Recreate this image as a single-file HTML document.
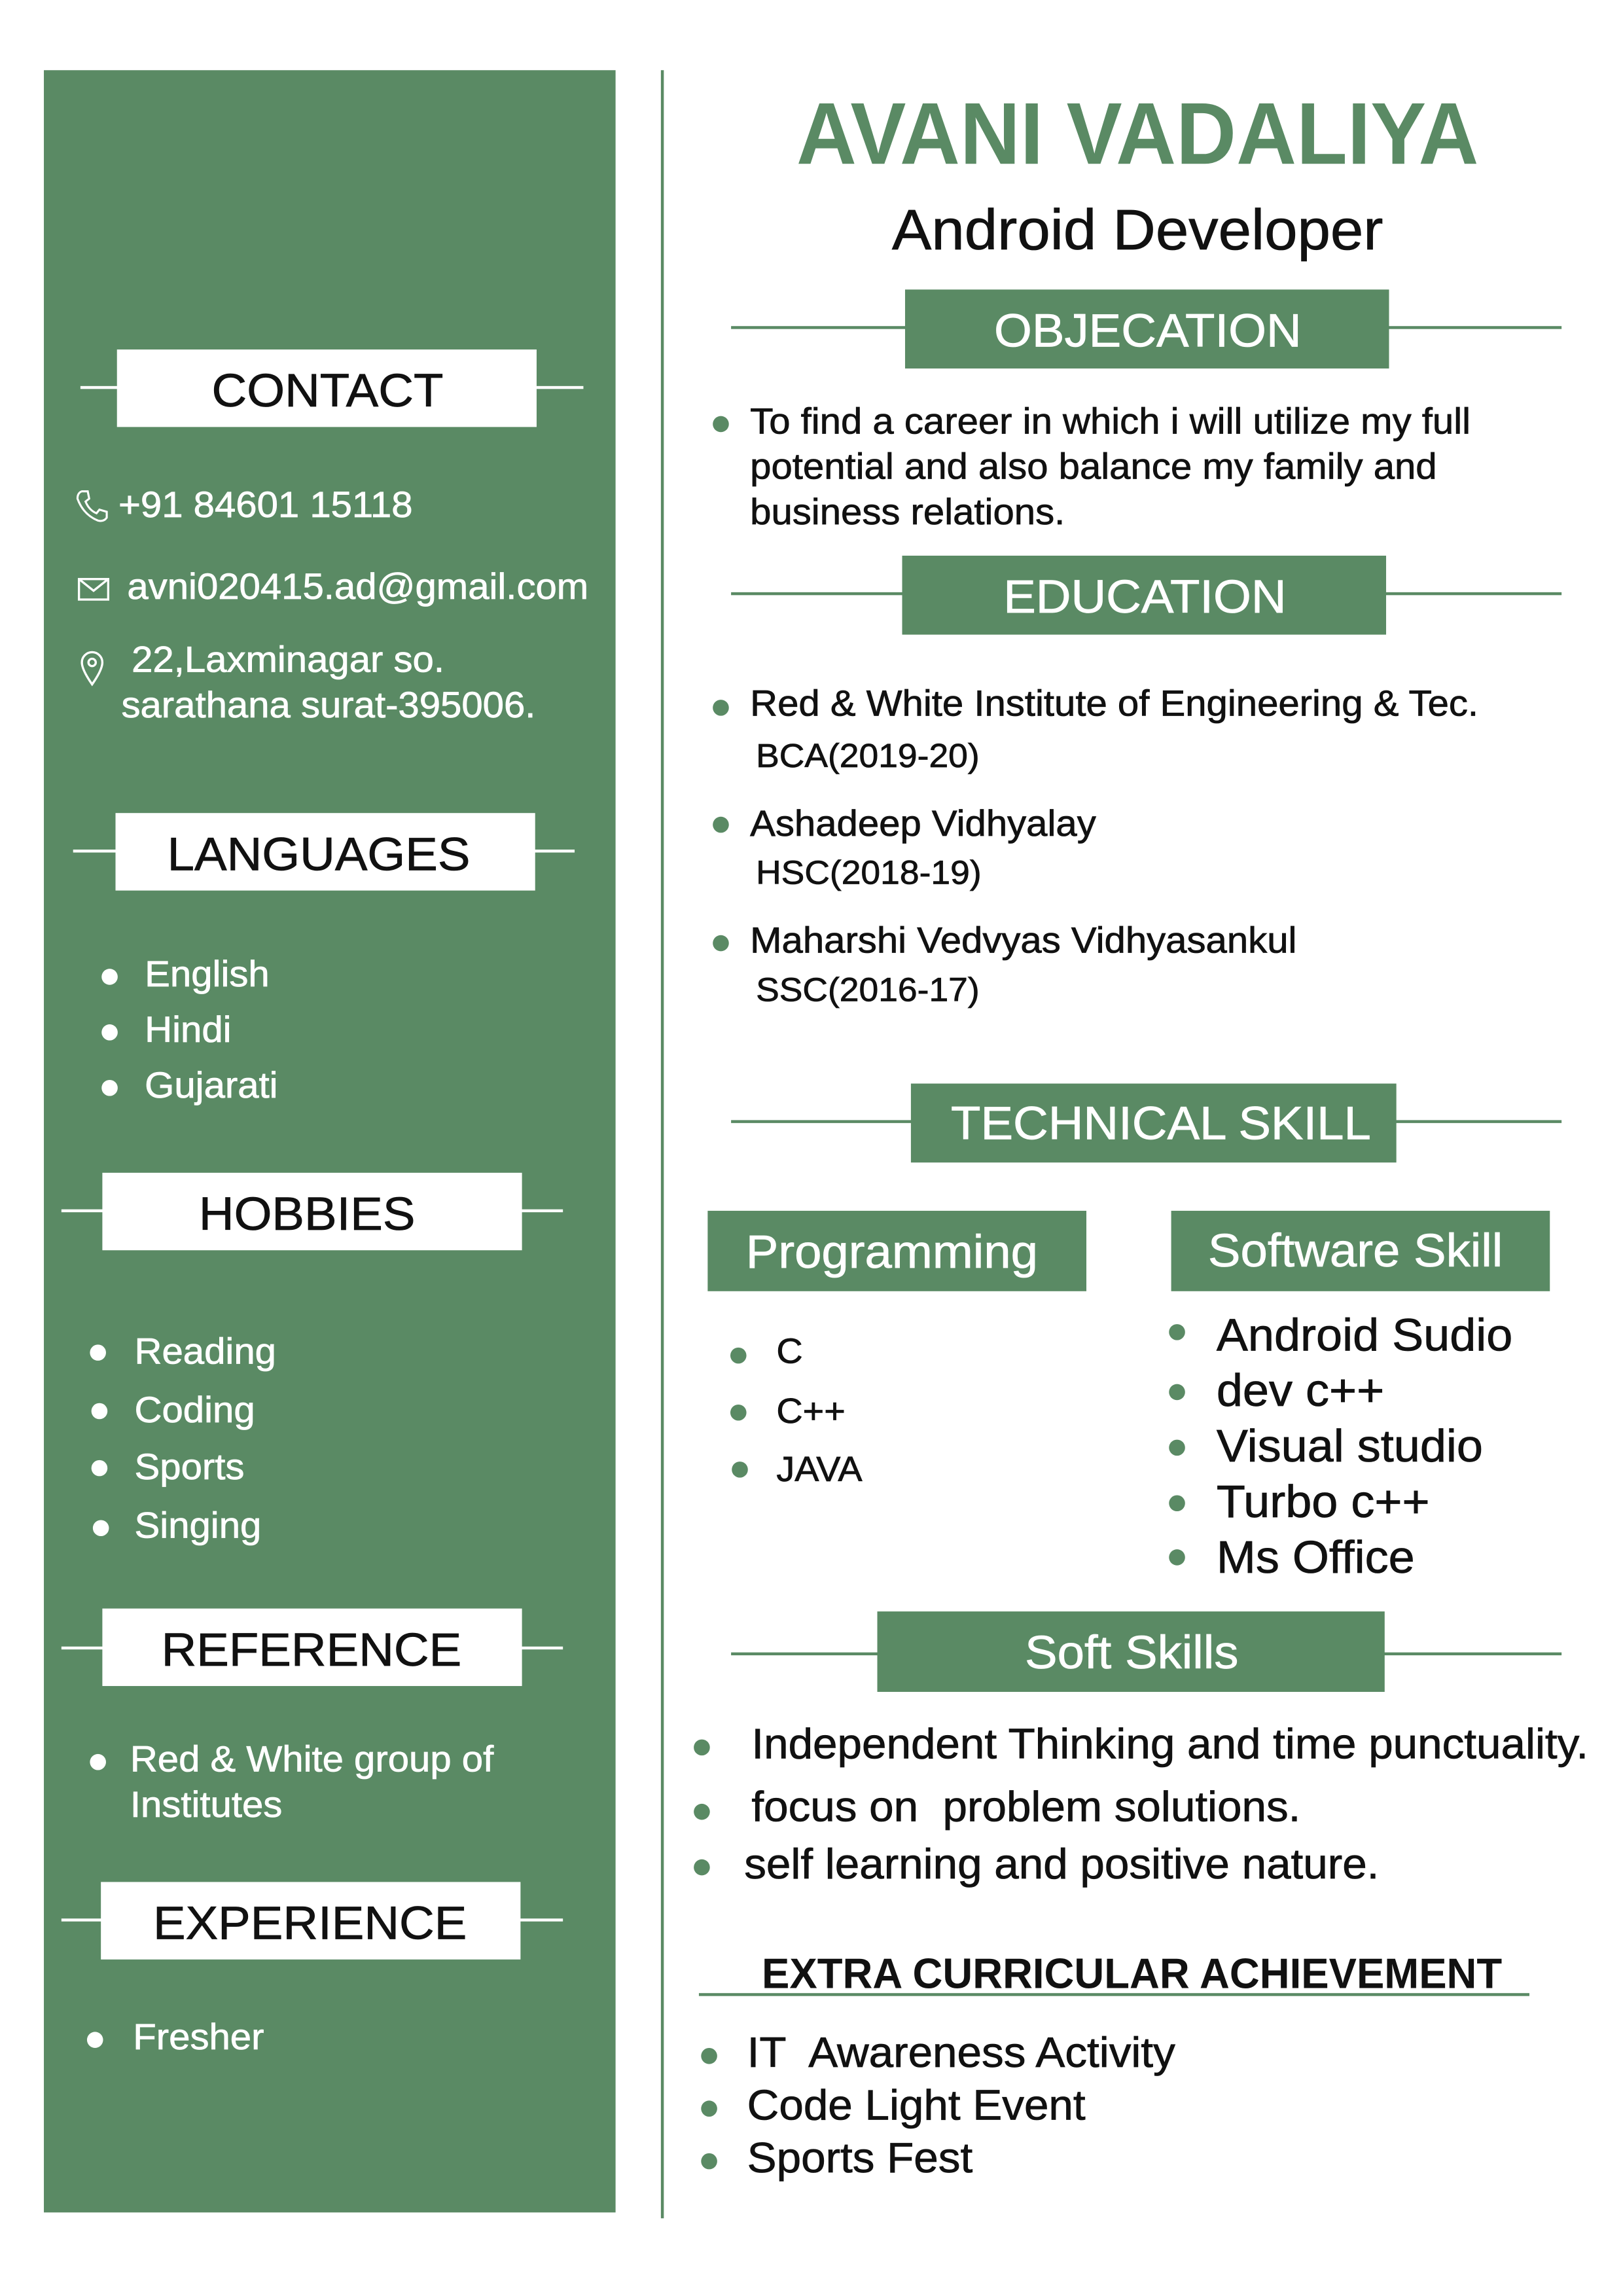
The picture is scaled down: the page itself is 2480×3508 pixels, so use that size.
<!DOCTYPE html>
<html><head><meta charset="utf-8"><style>
html,body{margin:0;padding:0;background:#fff;}
#page{position:relative;width:1110px;height:1570px;transform:scale(2.2342);transform-origin:0 0;font-family:"Liberation Sans",sans-serif;overflow:hidden;}
.a{position:absolute;}
.t{position:absolute;white-space:nowrap;transform:translateY(-50%) scaleX(1.04);transform-origin:0 50%;line-height:1;-webkit-text-stroke:0.35px currentColor;}
.c{position:absolute;white-space:nowrap;transform:translate(-50%,-50%) scaleX(1.04);line-height:1;-webkit-text-stroke:0.35px currentColor;}
.w{color:#fff;}
.k{color:#111;}
.g{background:#5a8a64;}
.box{position:absolute;}
.ln{position:absolute;height:2px;background:#5a8a64;}
.lnw{position:absolute;height:2px;background:#fff;}
.dot{position:absolute;width:11px;height:11px;border-radius:50%;transform:translate(-50%,-50%);}
.dw{background:#fff;}
.dg{background:#5a8a64;}
</style></head><body>
<div id="page">
<div class="a g" style="left:30px;top:48px;width:391px;height:1465px"></div>
<div class="a g" style="left:452px;top:48px;width:2px;height:1469px"></div>

<div class="c" style="left:778px;top:92px;font-size:60px;font-weight:bold;color:#5a8a64;transform:translate(-50%,-50%) scaleX(.95);-webkit-text-stroke:0">AVANI VADALIYA</div>
<div class="c k" style="left:778px;top:158px;font-size:39px">Android Developer</div>

<div class="ln" style="left:500px;top:223px;width:568px"></div>
<div class="box g" style="left:619px;top:198px;width:331px;height:54px"></div>
<div class="c w" style="left:785px;top:226px;font-size:32px">OBJECATION</div>
<div class="dot dg" style="left:493px;top:290px"></div>
<div class="t k" style="left:513px;top:289px;font-size:25px">To find a career in which i will utilize my full</div>
<div class="t k" style="left:513px;top:320px;font-size:25px">potential and also balance my family and</div>
<div class="t k" style="left:513px;top:351px;font-size:25px">business relations.</div>

<div class="ln" style="left:500px;top:405px;width:568px"></div>
<div class="box g" style="left:617px;top:380px;width:331px;height:54px"></div>
<div class="c w" style="left:783px;top:408px;font-size:32px">EDUCATION</div>
<div class="dot dg" style="left:493px;top:484px"></div>
<div class="t k" style="left:513px;top:482px;font-size:25px">Red &amp; White Institute of Engineering &amp; Tec.</div>
<div class="t k" style="left:517px;top:517px;font-size:23px">BCA(2019-20)</div>
<div class="dot dg" style="left:493px;top:564px"></div>
<div class="t k" style="left:513px;top:564px;font-size:25px">Ashadeep Vidhyalay</div>
<div class="t k" style="left:517px;top:597px;font-size:23px">HSC(2018-19)</div>
<div class="dot dg" style="left:493px;top:645px"></div>
<div class="t k" style="left:513px;top:644px;font-size:25px">Maharshi Vedvyas Vidhyasankul</div>
<div class="t k" style="left:517px;top:677px;font-size:23px">SSC(2016-17)</div>

<div class="ln" style="left:500px;top:766px;width:568px"></div>
<div class="box g" style="left:623px;top:741px;width:332px;height:54px"></div>
<div class="c w" style="left:794px;top:768px;font-size:32px">TECHNICAL SKILL</div>

<div class="box g" style="left:484px;top:828px;width:259px;height:55px"></div>
<div class="c w" style="left:610px;top:856px;font-size:32px">Programming</div>
<div class="box g" style="left:801px;top:828px;width:259px;height:55px"></div>
<div class="c w" style="left:927px;top:855px;font-size:32px">Software Skill</div>

<div class="dot dg" style="left:505px;top:927px"></div>
<div class="t k" style="left:531px;top:925px;font-size:24px">C</div>
<div class="dot dg" style="left:505px;top:966px"></div>
<div class="t k" style="left:531px;top:966px;font-size:24px">C++</div>
<div class="dot dg" style="left:506px;top:1005px"></div>
<div class="t k" style="left:531px;top:1006px;font-size:24px">JAVA</div>

<div class="dot dg" style="left:805px;top:911px"></div>
<div class="t k" style="left:832px;top:913px;font-size:31px">Android Sudio</div>
<div class="dot dg" style="left:805px;top:952px"></div>
<div class="t k" style="left:832px;top:951px;font-size:31px">dev c++</div>
<div class="dot dg" style="left:805px;top:990px"></div>
<div class="t k" style="left:832px;top:989px;font-size:31px">Visual studio</div>
<div class="dot dg" style="left:805px;top:1028px"></div>
<div class="t k" style="left:832px;top:1027px;font-size:31px">Turbo c++</div>
<div class="dot dg" style="left:805px;top:1065px"></div>
<div class="t k" style="left:832px;top:1065px;font-size:31px">Ms Office</div>

<div class="ln" style="left:500px;top:1130px;width:568px"></div>
<div class="box g" style="left:600px;top:1102px;width:347px;height:55px"></div>
<div class="c w" style="left:774px;top:1130px;font-size:32px">Soft Skills</div>
<div class="dot dg" style="left:480px;top:1195px"></div>
<div class="t k" style="left:514px;top:1194px;font-size:29px">Independent Thinking and time punctuality.</div>
<div class="dot dg" style="left:480px;top:1239px"></div>
<div class="t k" style="left:514px;top:1237px;font-size:29px">focus on&nbsp; problem solutions.</div>
<div class="dot dg" style="left:480px;top:1277px"></div>
<div class="t k" style="left:509px;top:1276px;font-size:29px">self learning and positive nature.</div>

<div class="t k" style="left:521px;top:1351px;font-size:29px;font-weight:bold;transform:translateY(-50%) scaleX(.98);-webkit-text-stroke:0">EXTRA CURRICULAR ACHIEVEMENT</div>
<div class="ln" style="left:478px;top:1363px;width:568px"></div>
<div class="dot dg" style="left:485px;top:1406px"></div>
<div class="t k" style="left:511px;top:1405px;font-size:29px">IT&nbsp; Awareness Activity</div>
<div class="dot dg" style="left:485px;top:1442px"></div>
<div class="t k" style="left:511px;top:1441px;font-size:29px">Code Light Event</div>
<div class="dot dg" style="left:485px;top:1478px"></div>
<div class="t k" style="left:511px;top:1477px;font-size:29px">Sports Fest</div>

<div class="lnw" style="left:55px;top:264px;width:344px"></div>
<div class="box" style="left:80px;top:239px;width:287px;height:53px;background:#fff"></div>
<div class="c k" style="left:224px;top:267px;font-size:32px">CONTACT</div>
<svg class="a" style="left:51px;top:334px" width="24" height="24" viewBox="0 0 24 24"><path d="M5 2 L9 2 L10 7 L7.5 9 Q10 15 15 17 L17 14.5 L22 16 L22 20 Q20 23 16 22 Q6 18 2 7 Q2 3 5 2 Z" fill="none" stroke="#fff" stroke-width="1.4"/></svg>
<div class="t w" style="left:81px;top:346px;font-size:25px">+91 84601 15118</div>
<svg class="a" style="left:53px;top:395px" width="22" height="16" viewBox="0 0 22 16"><rect x="1" y="1" width="20" height="14" fill="none" stroke="#fff" stroke-width="1.5"/><path d="M1 1 L11 9 L21 1" fill="none" stroke="#fff" stroke-width="1.5"/></svg>
<div class="t w" style="left:87px;top:402px;font-size:25px">avni020415.ad@gmail.com</div>
<svg class="a" style="left:54px;top:444px" width="18" height="26" viewBox="0 0 18 26"><path d="M9 24 Q2 14 2 9 A7 7 0 0 1 16 9 Q16 14 9 24 Z" fill="none" stroke="#fff" stroke-width="1.5"/><circle cx="9" cy="9" r="2.5" fill="none" stroke="#fff" stroke-width="1.5"/></svg>
<div class="t w" style="left:90px;top:452px;font-size:25px">22,Laxminagar so.</div>
<div class="t w" style="left:83px;top:483px;font-size:25px">sarathana surat-395006.</div>

<div class="lnw" style="left:50px;top:581px;width:343px"></div>
<div class="box" style="left:79px;top:556px;width:287px;height:53px;background:#fff"></div>
<div class="c k" style="left:218px;top:584px;font-size:32px">LANGUAGES</div>
<div class="dot dw" style="left:75px;top:668px"></div>
<div class="t w" style="left:99px;top:667px;font-size:25px">English</div>
<div class="dot dw" style="left:75px;top:706px"></div>
<div class="t w" style="left:99px;top:705px;font-size:25px">Hindi</div>
<div class="dot dw" style="left:75px;top:744px"></div>
<div class="t w" style="left:99px;top:743px;font-size:25px">Gujarati</div>

<div class="lnw" style="left:42px;top:827px;width:343px"></div>
<div class="box" style="left:70px;top:802px;width:287px;height:53px;background:#fff"></div>
<div class="c k" style="left:210px;top:830px;font-size:32px">HOBBIES</div>
<div class="dot dw" style="left:67px;top:925px"></div>
<div class="t w" style="left:92px;top:925px;font-size:25px">Reading</div>
<div class="dot dw" style="left:68px;top:965px"></div>
<div class="t w" style="left:92px;top:965px;font-size:25px">Coding</div>
<div class="dot dw" style="left:68px;top:1004px"></div>
<div class="t w" style="left:92px;top:1004px;font-size:25px">Sports</div>
<div class="dot dw" style="left:69px;top:1045px"></div>
<div class="t w" style="left:92px;top:1044px;font-size:25px">Singing</div>

<div class="lnw" style="left:42px;top:1126px;width:343px"></div>
<div class="box" style="left:70px;top:1100px;width:287px;height:53px;background:#fff"></div>
<div class="c k" style="left:213px;top:1128px;font-size:32px">REFERENCE</div>
<div class="dot dw" style="left:67px;top:1205px"></div>
<div class="t w" style="left:89px;top:1204px;font-size:25px">Red &amp; White group of</div>
<div class="t w" style="left:89px;top:1235px;font-size:25px">Institutes</div>

<div class="lnw" style="left:42px;top:1312px;width:343px"></div>
<div class="box" style="left:69px;top:1287px;width:287px;height:53px;background:#fff"></div>
<div class="c k" style="left:212px;top:1315px;font-size:32px">EXPERIENCE</div>
<div class="dot dw" style="left:65px;top:1395px"></div>
<div class="t w" style="left:91px;top:1394px;font-size:25px">Fresher</div>
</div>
</body></html>
